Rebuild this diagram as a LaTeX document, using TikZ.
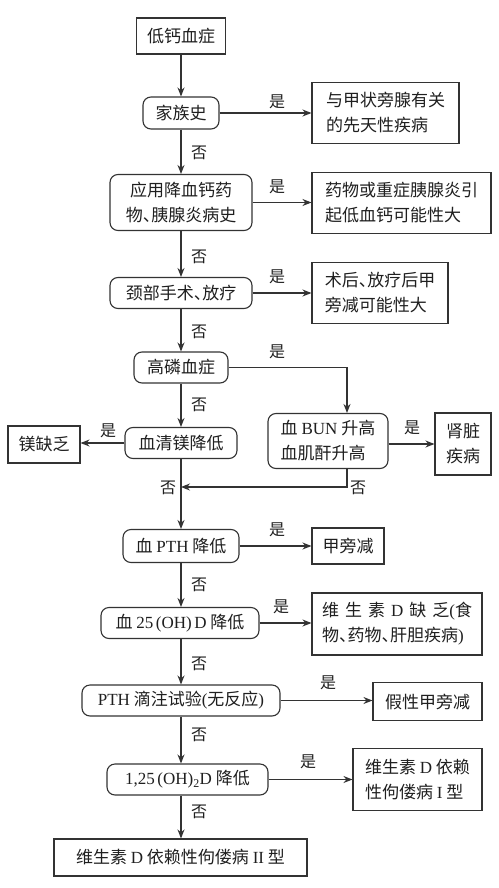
\documentclass[tikz,border=0pt]{standalone}
\usepackage{fontspec}
\setmainfont{Liberation Serif}
\newfontfamily\cjk{Noto Sans CJK SC}
\usetikzlibrary{arrows.meta}
\newcommand{\lat}[1]{{\rmfamily #1}}
\newcommand{\zdun}{\makebox[0.5em][l]{、}}
\newcommand{\zlp}{\hspace{2.5pt}\lat{(}}
\newcommand{\zrp}{\lat{)}\hspace{2.5pt}}
\begin{document}
\begin{tikzpicture}[x=1pt,y=-1pt,
  box/.style={draw=black!80, line width=1.1pt, inner sep=0pt,
    font=\cjk\fontsize{17}{25}\selectfont, text=black!88, align=center},
  rbox/.style={box, rounded corners=8pt},
  lbox/.style={box, align=left},
  lab/.style={font=\cjk\fontsize{16}{18}\selectfont, inner sep=0pt, text=black!88},
  arr/.style={draw=black!80, line width=1.1pt, -{Stealth[length=9pt,width=7pt]}},
  ln/.style={draw=black!80, line width=1.1pt}]
\useasboundingbox (0,0) rectangle (498,888);
\fill[white] (0,0) rectangle (498,888);

% main column
\node[box, minimum width=89pt, minimum height=36pt] (n1) at (181,36) {低钙血症};
\node[rbox, minimum width=76pt, minimum height=32pt] (n2) at (181,113) {家族史};
\node[rbox, minimum width=142pt, minimum height=56pt] (n3) at (181,202.5) {应用降血钙药\\物\zdun 胰腺炎病史};
\node[rbox, minimum width=142pt, minimum height=31pt] (n4) at (181,293) {颈部手术\zdun 放疗};
\node[rbox, minimum width=94pt, minimum height=31pt] (n5) at (181,367.5) {高磷血症};
\node[rbox, minimum width=112pt, minimum height=31pt] (n6) at (181,443) {血清镁降低};
\node[rbox, minimum width=120pt, minimum height=55pt, align=left] (n7) at (328,441) {血 \lat{BUN} 升高\\血肌酐升高};
\node[rbox, minimum width=116pt, minimum height=33pt] (n8) at (181,546) {血 \lat{PTH} 降低};
\node[rbox, minimum width=158pt, minimum height=31pt] (n9) at (180,623) {血 \lat{25}\zlp\lat{OH}\zrp\lat{D} 降低};
\node[rbox, minimum width=198pt, minimum height=31pt] (n10) at (181,700.5) {\lat{PTH} 滴注试验\lat{(}无反应\lat{)}};
\node[rbox, minimum width=161pt, minimum height=31pt] (n11) at (187.5,779.5) {\lat{1,25}\zlp\lat{OH}\lat{)\textsubscript{2}D} 降低};
\node[box, minimum width=253pt, minimum height=37pt] (n12) at (180.5,857.5) {维生素 \lat{D} 依赖性佝偻病 \lat{II} 型};

% outcome boxes
\node[lbox, minimum width=147pt, minimum height=61pt] (r2) at (385.5,113) {与甲状旁腺有关\\的先天性疾病};
\node[lbox, minimum width=179pt, minimum height=61pt] (r3) at (401.5,203) {药物或重症胰腺炎引\\起低血钙可能性大};
\node[lbox, minimum width=136pt, minimum height=61pt] (r4) at (380,293) {术后\zdun 放疗后甲\\旁减可能性大};
\node[box, minimum width=72pt, minimum height=37pt] (l6) at (44,444.5) {镁缺乏};
\node[box, minimum width=56pt, minimum height=62pt] (k7) at (463,444) {肾脏\\疾病};
\node[box, minimum width=72pt, minimum height=36pt] (r8) at (348,546) {甲旁减};
\node[lbox, minimum width=170pt, minimum height=62pt] (r9) at (397,624) {\makebox[150pt][s]{维\hfil 生\hfil 素\hfil \lat{D}\hfil 缺\hfil 乏\lat{(}食}\\物\zdun 药物\zdun 肝胆疾病\lat{)}};
\node[box, minimum width=109pt, minimum height=38pt] (r10) at (427.5,701.5) {假性甲旁减};
\node[lbox, minimum width=129pt, minimum height=62pt] (r11) at (417.5,779.5) {维生素 \lat{D} 依赖\\性佝偻病 \lat{I} 型};

% vertical arrows
\draw[arr] (n1) -- (n2);
\draw[arr] (n2) -- (n3);
\draw[arr] (n3) -- (n4);
\draw[arr] (n4) -- (n5);
\draw[arr] (n5) -- (n6);
\draw[arr] (n6) -- (n8);
\draw[arr] (n8) -- (n9.north -| n8.south);
\draw[arr] (n9.south -| n8.south) -- (n10.north -| n8.south);
\draw[arr] (n10.south -| n8.south) -- (n11.north -| n8.south);
\draw[arr] (n11.south -| n8.south) -- (n12.north -| n8.south);

% horizontal arrows
\draw[arr] (n2.east) -- (n2.east -| r2.west);
\draw[arr] (n3.east) -- (n3.east -| r3.west);
\draw[arr] (n4.east) -- (n4.east -| r4.west);
\draw[arr] (n6.west) -- (n6.west -| l6.east);
\draw[arr] ([yshift=-3pt]n7.east) -- ([yshift=-3pt]n7.east -| k7.west);
\draw[arr] (n8.east) -- (n8.east -| r8.west);
\draw[arr] (n9.east) -- (n9.east -| r9.west);
\draw[arr] (n10.east) -- (n10.east -| r10.west);
\draw[arr] (n11.east) -- (n11.east -| r11.west);

% hyperphosphatemia branch
\coordinate (bt) at ([xshift=19pt]n7.north);
\coordinate (bb) at ([xshift=19pt]n7.south);
\coordinate (mj) at (181,487);
\draw[arr] (n5.east) -| (bt);
\draw[arr] (bb) |- (mj);

% yes labels
\node[lab] (y2) at (277,102) {是};
\node[lab] (y3) at (277,187) {是};
\node[lab] (y4) at (277,277) {是};
\node[lab] (y5) at (277,352) {是};
\node[lab] (y6) at (108,431) {是};
\node[lab] (y7) at (412,428) {是};
\node[lab] (y8) at (277,530) {是};
\node[lab] (y9) at (281,607) {是};
\node[lab] (y10) at (328,683) {是};
\node[lab] (y11) at (308,762) {是};

% no labels
\node[lab] (f2) at (199,153) {否};
\node[lab] (f3) at (199,257) {否};
\node[lab] (f4) at (199,332) {否};
\node[lab] (f5) at (199,405) {否};
\node[lab] (f6) at (168,488) {否};
\node[lab] (f7) at (358,488) {否};
\node[lab] (f8) at (199,585) {否};
\node[lab] (f9) at (199,664) {否};
\node[lab] (f10) at (199,735) {否};
\node[lab] (f11) at (199,812) {否};
\end{tikzpicture}
\end{document}
